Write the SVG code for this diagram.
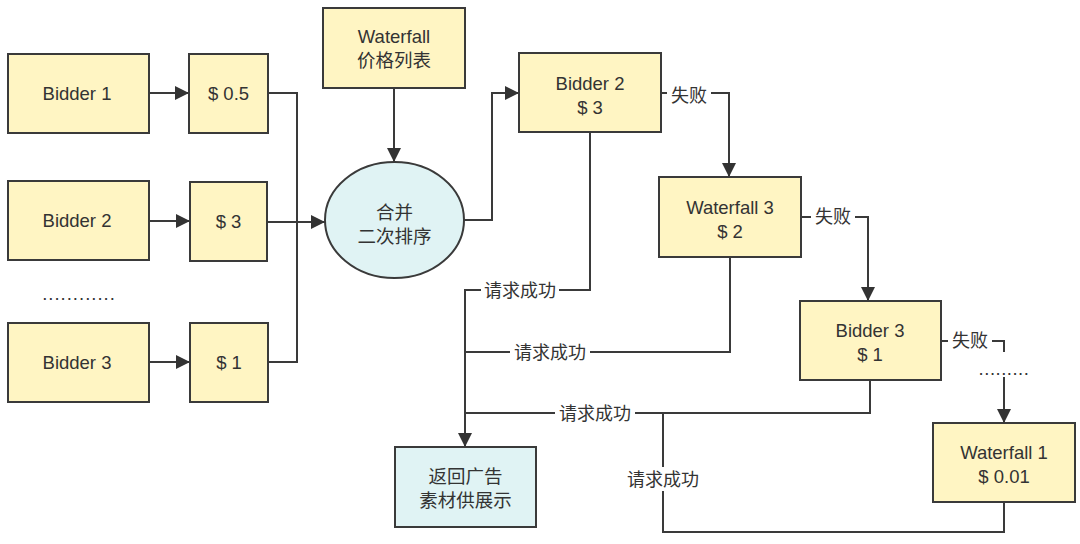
<svg xmlns="http://www.w3.org/2000/svg" width="1080" height="544" viewBox="0 0 1080 544">
<defs>
<style>
.n{fill:#fff5c3;stroke:#3a3a3a;stroke-width:2}
.b{fill:#e0f3f4;stroke:#3a3a3a;stroke-width:2}
.t{font-family:"Liberation Sans","Noto Sans CJK SC",sans-serif;font-size:18.5px;fill:#333;text-anchor:middle}
.l{font-family:"Liberation Sans","Noto Sans CJK SC",sans-serif;font-size:18px;fill:#333;text-anchor:middle}
.c{fill:none;stroke:#3a3a3a;stroke-width:2}
.bg{fill:#ffffff}
</style>
<marker id="a" viewBox="0 0 10 10" refX="10" refY="5" markerWidth="7.5" markerHeight="7" orient="auto" markerUnits="strokeWidth">
<path d="M0,0 L10,5 L0,10 z" fill="#333"/>
</marker>
</defs>
<rect width="1080" height="544" fill="#ffffff"/>
<g id="connectors">
<path class="c" d="M149,93 H189" marker-end="url(#a)"/>
<path class="c" d="M149,221 H190" marker-end="url(#a)"/>
<path class="c" d="M149,362 H190" marker-end="url(#a)"/>
<path class="c" d="M268,93 H297 V362 H268"/>
<path class="c" d="M267,222 H325" marker-end="url(#a)"/>
<path class="c" d="M394,88 V162" marker-end="url(#a)"/>
<path class="c" d="M464,220 H492 V93 H519" marker-end="url(#a)"/>
<path class="c" d="M661,93 H729 V177" marker-end="url(#a)"/>
<path class="c" d="M801,217 H868 V301" marker-end="url(#a)"/>
<path class="c" d="M941,341 H1004 V352"/>
<path class="c" d="M1004,377 V423" marker-end="url(#a)"/>
<path class="c" d="M590,132 V290 H465 V447" marker-end="url(#a)"/>
<path class="c" d="M730,257 V352 H465"/>
<path class="c" d="M870,380 V413 H465"/>
<path class="c" d="M1004,502 V532 H663 V413"/>
<rect class="bg" x="667" y="84" width="44" height="24"/>
<text class="l" x="689" y="102">失败</text>
<rect class="bg" x="811" y="205" width="44" height="24"/>
<text class="l" x="833" y="223">失败</text>
<rect class="bg" x="948" y="329" width="44" height="24"/>
<text class="l" x="970" y="347">失败</text>
<rect class="bg" x="481" y="278" width="78" height="24"/>
<text class="l" x="520" y="297">请求成功</text>
<rect class="bg" x="510" y="340" width="80" height="24"/>
<text class="l" x="550" y="359">请求成功</text>
<rect class="bg" x="555" y="401" width="80" height="24"/>
<text class="l" x="595" y="420">请求成功</text>
<rect class="bg" x="623" y="467" width="80" height="24"/>
<text class="l" x="663" y="486">请求成功</text>
</g>
<g id="bidder1"><rect class="n" x="8" y="54" width="141" height="79"/><text class="t" x="77" y="100">Bidder 1</text></g>
<g id="bidder2"><rect class="n" x="8" y="181" width="141" height="79"/><text class="t" x="77" y="227">Bidder 2</text></g>
<g id="dots-left"><text class="t" x="79" y="300" style="letter-spacing:1px">............</text></g>
<g id="bidder3"><rect class="n" x="8" y="323" width="141" height="79"/><text class="t" x="77" y="369">Bidder 3</text></g>
<g id="price05"><rect class="n" x="189" y="54" width="79" height="79"/><text class="t" x="228.5" y="100">$ 0.5</text></g>
<g id="price3"><rect class="n" x="190" y="182" width="77" height="79"/><text class="t" x="228.5" y="228">$ 3</text></g>
<g id="price1"><rect class="n" x="190" y="323" width="78" height="79"/><text class="t" x="229" y="369">$ 1</text></g>
<g id="waterfall-list"><rect class="n" x="323" y="8" width="142" height="80"/><text class="t" x="394" y="43">Waterfall</text><text class="t" x="394" y="67">价格列表</text></g>
<g id="merge"><ellipse class="b" cx="394.5" cy="220" rx="69.5" ry="58"/><text class="t" x="394.5" y="219">合并</text><text class="t" x="394.5" y="243">二次排序</text></g>
<g id="bidder2-3"><rect class="n" x="519" y="53" width="142" height="79"/><text class="t" x="590" y="90">Bidder 2</text><text class="t" x="590" y="114">$ 3</text></g>
<g id="waterfall3"><rect class="n" x="659" y="177" width="142" height="80"/><text class="t" x="730" y="214">Waterfall 3</text><text class="t" x="730" y="238">$ 2</text></g>
<g id="bidder3-1"><rect class="n" x="800" y="301" width="141" height="79"/><text class="t" x="870" y="337">Bidder 3</text><text class="t" x="870" y="361">$ 1</text></g>
<g id="dots-right"><text class="t" x="1004" y="375" style="letter-spacing:0.5px">.........</text></g>
<g id="waterfall1"><rect class="n" x="933" y="423" width="142" height="79"/><text class="t" x="1004" y="459">Waterfall 1</text><text class="t" x="1004" y="483">$ 0.01</text></g>
<g id="return"><rect class="b" x="395" y="447" width="141" height="80"/><text class="t" x="465.5" y="483">返回广告</text><text class="t" x="465.5" y="507">素材供展示</text></g>
</svg>
